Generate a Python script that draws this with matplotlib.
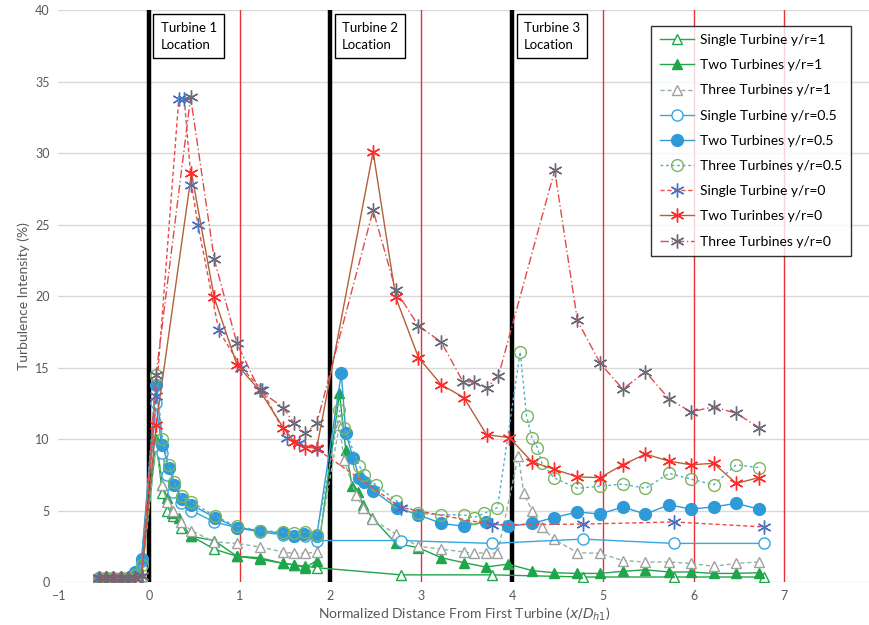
import matplotlib
matplotlib.use("Agg")
from matplotlib import pyplot as plt

plt.rcParams['font.family'] = ['Lato', 'DejaVu Sans']

# measurement positions upstream of turbine 1 (shared by all series)
pre_x = [-0.55, -0.47, -0.39, -0.31, -0.23, -0.15, -0.08]

single_y1_x = pre_x + [0.08, 0.15, 0.2, 0.27, 0.35, 0.47, 0.72, 0.97, 1.22, 1.48, 1.6, 1.72, 1.85,
                       2.78, 3.78, 4.78, 5.78, 6.78]
single_y1 = [0.3, 0.3, 0.3, 0.3, 0.3, 0.3, 0.4,
             9.8, 6.2, 5.0, 4.6, 3.8, 3.2, 2.3, 1.8, 1.6, 1.3, 1.2, 1.1, 1.0,
             0.5, 0.5, 0.35, 0.35, 0.35]

two_y1_x = pre_x + [0.08, 0.15, 0.2, 0.26, 0.33, 0.46, 0.72, 0.97, 1.22, 1.48, 1.6, 1.72, 1.85,
                    2.1, 2.17, 2.24, 2.3, 2.36, 2.46, 2.72, 2.97, 3.22, 3.47, 3.71, 3.96,
                    4.22, 4.46, 4.72, 4.97, 5.22, 5.47, 5.73, 5.97, 6.22, 6.47, 6.72]
two_y1 = [0.3, 0.3, 0.3, 0.3, 0.3, 0.3, 0.4,
          10.0, 6.8, 5.9, 4.8, 4.5, 3.2, 2.9, 1.8, 1.7, 1.3, 1.2, 1.0, 1.5,
          13.2, 9.2, 6.7, 6.3, 5.4, 4.5, 2.7, 2.4, 1.7, 1.35, 1.05, 1.25,
          0.8, 0.65, 0.6, 0.6, 0.75, 0.85, 0.7, 0.7, 0.6, 0.6, 0.65]

three_y1_x = pre_x + [0.08, 0.15, 0.2, 0.27, 0.35, 0.47, 0.72, 0.97, 1.22, 1.48, 1.6, 1.72, 1.85,
                      2.1, 2.15, 2.28, 2.36, 2.46, 2.72, 2.97, 3.22, 3.47, 3.58, 3.71, 3.84,
                      4.07, 4.13, 4.22, 4.33, 4.46, 4.72, 4.97, 5.22, 5.47, 5.73, 5.97, 6.22, 6.47, 6.72]
three_y1 = [0.3, 0.3, 0.3, 0.3, 0.3, 0.3, 0.4,
            9.5, 6.8, 5.6, 5.0, 4.2, 3.6, 2.8, 2.7, 2.45, 2.1, 2.0, 2.0, 2.1,
            11.0, 8.5, 6.1, 5.2, 4.4, 3.35, 2.5, 2.3, 2.1, 2.0, 2.05, 2.0,
            8.8, 6.2, 5.0, 3.85, 3.0, 2.05, 2.0, 1.5, 1.4, 1.4, 1.3, 1.1, 1.3, 1.4]

single_y05_x = pre_x + [0.08, 0.15, 0.2, 0.27, 0.35, 0.47, 0.72, 0.97, 1.22, 1.48, 1.6, 1.72, 1.85,
                        2.78, 3.78, 4.78, 5.78, 6.78]
single_y05 = [0.3, 0.3, 0.3, 0.3, 0.3, 0.6, 1.5,
              12.5, 9.0, 7.5, 6.3, 5.5, 5.0, 4.2, 3.8, 3.5, 3.3, 3.2, 3.2, 2.9,
              2.9, 2.7, 3.0, 2.7, 2.7]

two_y05_x = pre_x + [0.08, 0.15, 0.22, 0.28, 0.36, 0.47, 0.73, 0.97, 1.22, 1.48, 1.6, 1.71, 1.85,
                     2.12, 2.17, 2.25, 2.32, 2.37, 2.47, 2.73, 2.97, 3.22, 3.47, 3.71, 3.96,
                     4.22, 4.46, 4.72, 4.97, 5.22, 5.47, 5.73, 5.97, 6.22, 6.47, 6.72]
two_y05 = [0.3, 0.3, 0.3, 0.3, 0.3, 0.7, 1.6,
           13.8, 9.6, 8.0, 6.8, 5.8, 5.4, 4.5, 3.8, 3.6, 3.4, 3.2, 3.35, 3.25,
           14.6, 10.4, 8.7, 7.3, 7.0, 6.4, 5.2, 4.7, 4.1, 3.9, 4.2, 3.9,
           4.1, 4.5, 4.9, 4.75, 5.25, 4.75, 5.4, 5.1, 5.25, 5.5, 5.1]

three_y05_x = pre_x + [0.08, 0.15, 0.22, 0.28, 0.36, 0.47, 0.73, 0.97, 1.22, 1.48, 1.6, 1.72, 1.85,
                       2.1, 2.15, 2.32, 2.37, 2.5, 2.72, 2.97, 3.22, 3.47, 3.58, 3.69, 3.84,
                       4.09, 4.16, 4.22, 4.28, 4.33, 4.46, 4.72, 4.97, 5.22, 5.47, 5.73, 5.97,
                       6.22, 6.47, 6.72]
three_y05 = [0.3, 0.3, 0.3, 0.3, 0.3, 0.5, 1.2,
             14.5, 10.0, 8.2, 7.0, 6.0, 5.6, 4.6, 3.9, 3.6, 3.5, 3.4, 3.5, 3.3,
             12.0, 10.8, 8.1, 7.5, 6.8, 5.7, 4.8, 4.7, 4.7, 4.5, 4.8, 5.2,
             16.1, 11.6, 10.1, 9.4, 8.3, 7.3, 6.55, 6.7, 6.85, 6.55, 7.6, 7.2,
             6.8, 8.2, 8.0]

single_y0_x = pre_x + [0.08, 0.33, 0.39, 0.47, 0.54, 0.77, 1.02, 1.25, 1.52, 1.65, 1.85,
                       2.78, 3.78, 4.78, 5.78, 6.78]
single_y0 = [0.3, 0.3, 0.3, 0.3, 0.3, 0.3, 0.4,
             13.0, 33.8, 33.8, 27.8, 25.0, 17.6, 15.0, 13.4, 10.1, 9.7, 9.3,
             5.2, 4.0, 4.05, 4.2, 3.85]

two_y0_x = pre_x + [0.08, 0.47, 0.72, 0.97, 1.22, 1.48, 1.6, 1.72, 1.85,
                    2.47, 2.72, 2.97, 3.22, 3.47, 3.72, 3.97,
                    4.22, 4.46, 4.72, 4.97, 5.22, 5.47, 5.73, 5.97, 6.22, 6.47, 6.72]
two_y0 = [0.3, 0.3, 0.3, 0.3, 0.3, 0.3, 0.4,
          11.0, 28.6, 19.9, 15.2, 13.4, 10.8, 9.8, 9.4, 9.4,
          30.1, 19.9, 15.7, 13.8, 12.9, 10.3, 10.1,
          8.4, 7.9, 7.35, 7.3, 8.2, 8.95, 8.45, 8.2, 8.3, 6.9, 7.3]

three_y0_x = pre_x + [0.08, 0.46, 0.72, 0.97, 1.22, 1.48, 1.6, 1.72, 1.85,
                      2.47, 2.72, 2.97, 3.22, 3.46, 3.58, 3.72, 3.85,
                      4.47, 4.72, 4.97, 5.22, 5.47, 5.73, 5.97, 6.22, 6.47, 6.72]
three_y0 = [0.3, 0.3, 0.3, 0.3, 0.3, 0.3, 0.4,
            14.5, 33.9, 22.6, 16.7, 13.4, 12.2, 11.1, 10.4, 11.1,
            26.0, 20.4, 17.9, 16.8, 14.0, 14.0, 13.6, 14.4,
            28.8, 18.3, 15.3, 13.5, 14.7, 12.8, 11.9, 12.25, 11.8, 10.8]

turbine_x = [0, 2, 4]
turbine_labels = ["Turbine 1\nLocation", "Turbine 2\nLocation", "Turbine 3\nLocation"]
red_lines_x = [1, 3, 5, 6, 7]

asterisk = (6, 2, 0)
series = [
    (single_y1_x, single_y1, "Single Turbine y/r=1",
     dict(color='#1fa64a', ls='-', marker='^', mfc='white', mec='#1fa64a', ms=7.5)),
    (two_y1_x, two_y1, "Two Turbines y/r=1",
     dict(color='#1fa64a', ls='-', marker='^', mfc='#1fa64a', mec='#1fa64a', ms=7.5)),
    (three_y1_x, three_y1, "Three Turbines y/r=1",
     dict(color='#8fb4a0', ls=(0, (3, 2)), marker='^', mfc='white', mec='#a0a0a0', ms=7.5)),
    (single_y05_x, single_y05, "Single Turbine y/r=0.5",
     dict(color='#35a7de', ls='-', marker='o', mfc='white', mec='#35a7de', ms=8)),
    (two_y05_x, two_y05, "Two Turbines y/r=0.5",
     dict(color='#2f9ad8', ls='-', marker='o', mfc='#2f9ad8', mec='#2f9ad8', ms=8.5)),
    (three_y05_x, three_y05, "Three Turbines y/r=0.5",
     dict(color='#4fb0cf', ls=(0, (2, 2)), marker='o', mfc='none', mec='#7ab55c', ms=8.5)),
    (single_y0_x, single_y0, "Single Turbine y/r=0",
     dict(color='#f04848', ls=(0, (3, 2)), marker=asterisk, mec='#4a72c0', ms=10, mew=1.0)),
    (two_y0_x, two_y0, "Two Turinbes y/r=0",
     dict(color='#b5603a', ls='-', marker=asterisk, mec='#ff2a2a', ms=10, mew=1.0)),
    (three_y0_x, three_y0, "Three Turbines y/r=0",
     dict(color='#e24a4a', ls=(0, (6, 2, 1, 2)), marker=asterisk, mec='#6a6a78', ms=10, mew=1.0)),
]

fig = plt.figure(figsize=(8.7, 6.25), dpi=100)
ax = fig.add_axes([0.0667, 0.0688, 0.933, 0.915])

for xv in red_lines_x:
    ax.axvline(xv, color='#e8303a', lw=1.0, zorder=1)
for xv in turbine_x:
    ax.axvline(xv, color='black', lw=3.2, zorder=1.5)

for xs, ys, label, style in series:
    ax.plot(xs, ys, label=label, lw=1.0, zorder=3, **style)

for xv, txt in zip(turbine_x, turbine_labels):
    ax.text(xv + 0.13, 39.2, txt, ha='left', va='top', fontsize=9.5, linespacing=1.5,
            bbox=dict(boxstyle='square,pad=0.55', fc='white', ec='black', lw=1.0), zorder=5)

ax.set_xlim(-1, 7.94)
ax.set_ylim(0, 40)
ax.set_xticks(range(-1, 8))
ax.set_yticks(range(0, 41, 5))
ax.tick_params(length=0, labelsize=9, labelcolor='#595959', pad=6)
for s in ax.spines.values():
    s.set_visible(False)
ax.yaxis.grid(True, color='#d9d9d9', lw=1.0, zorder=0)
ax.set_axisbelow(True)

ax.set_ylabel("Turbulence Intensity (%)", fontsize=10, color='#595959', labelpad=4)
ax.set_xlabel(r"Normalized Distance From First Turbine ($x/D_{h1}$)", fontsize=10,
              color='#595959', labelpad=2)

leg = ax.legend(loc='upper right', bbox_to_anchor=(0.985, 0.985), fontsize=10,
                frameon=True, fancybox=False, edgecolor='black', handlelength=2.5,
                labelspacing=0.95, borderpad=0.6, handletextpad=0.4)
leg.get_frame().set_linewidth(1.0)
leg.set_zorder(6)

fig.savefig("out.png", dpi=100)
